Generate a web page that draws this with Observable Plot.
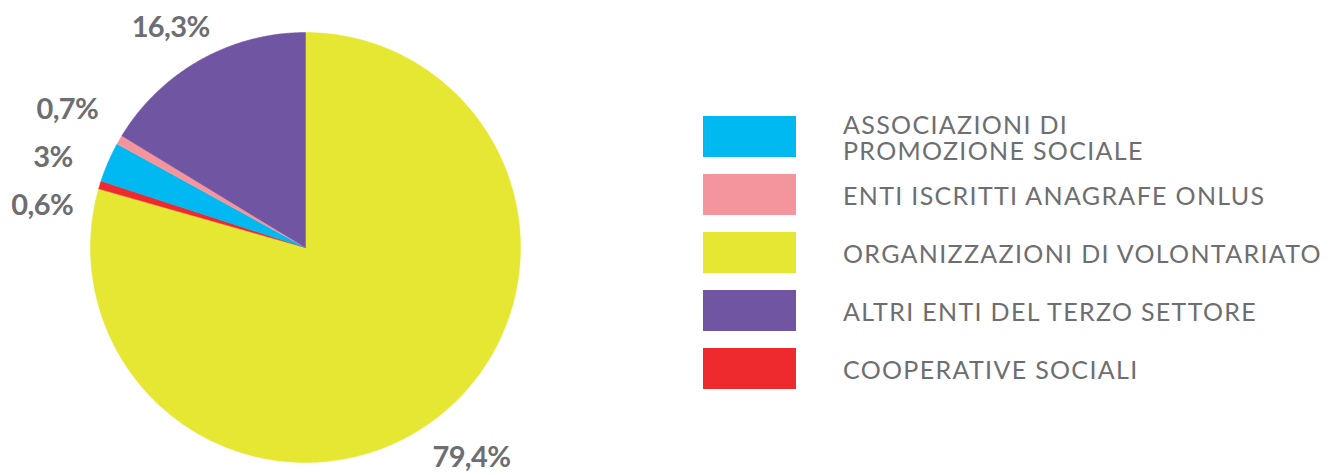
<!DOCTYPE html>
<html><head><meta charset="utf-8">
<script src="https://cdn.jsdelivr.net/npm/d3@7"></script>
<script src="https://cdn.jsdelivr.net/npm/@observablehq/plot@0.6"></script>
<style>
body{margin:0;background:#fff;font-family:Lato,sans-serif;}
#wrap{position:relative;width:1325px;height:474px;overflow:hidden;}
#chart{position:absolute;left:0;top:0;}
#legend{position:absolute;left:703px;top:116px;}
.row{display:flex;align-items:center;height:41px;margin-bottom:17px;}
.sw{width:93px;height:41px;flex:none;}
.lab{margin-left:47px;font-family:Lato,sans-serif;font-size:25px;font-weight:400;color:#6d6e71;line-height:26px;white-space:pre;}
</style></head>
<body><div id="wrap"><div id="chart"></div><div id="legend"></div></div>
<script>
// Legend order
const categories = ["APS", "ONLUS", "ODV", "ALTRI", "COOP"];
const legendLabels = ["ASSOCIAZIONI DI\nPROMOZIONE SOCIALE", "ENTI ISCRITTI ANAGRAFE ONLUS", "ORGANIZZAZIONI DI VOLONTARIATO", "ALTRI ENTI DEL TERZO SETTORE", "COOPERATIVE SOCIALI"];
const values = [3, 0.7, 79.4, 16.3, 0.6];
const valueLabels = ["3%", "0,7%", "79,4%", "16,3%", "0,6%"];
const colors = ["#00b9f0", "#f4959e", "#e6e733", "#6f55a2", "#ee2a2f"];
// Pie order, clockwise from 12 o'clock
const pieOrder = ["ODV", "COOP", "APS", "ONLUS", "ALTRI"];

const R = 215; // pie radius in px (used for label spacing conversion)
const total = d3.sum(values);
let start = 0;
const slices = pieOrder.map(cat => {
  const i = categories.indexOf(cat);
  const a0 = start, a1 = start + values[i] / total * 2 * Math.PI;
  start = a1;
  return {cat, a0, a1, label: valueLabels[i]};
});

// slice outlines
const pts = [];
for (const s of slices) {
  pts.push({cat: s.cat, x: 0, y: 0});
  const n = Math.max(2, Math.ceil((s.a1 - s.a0) / (Math.PI / 360)));
  for (let k = 0; k <= n; k++) {
    const a = s.a0 + (s.a1 - s.a0) * k / n;
    pts.push({cat: s.cat, x: Math.sin(a), y: Math.cos(a)});
  }
  pts.push({cat: s.cat, x: 0, y: 0});
}

// label layout: along mid-angle, clamp inside the frame, push crowded ones apart
const lr = 1.28;
const labels = slices.map(s => {
  const m = (s.a0 + s.a1) / 2;
  return {label: s.label, x: Math.sin(m) * lr, y: Math.cos(m) * lr, m};
});
const yMax = (247 - 27) / R, yMin = -(457 - 247) / R;
for (const l of labels) l.y = Math.max(yMin, Math.min(yMax, l.y));
const left = labels.filter(l => l.x < 0 && l.m > Math.PI * 1.4 && l.m < Math.PI * 1.7).sort((a, b) => b.y - a.y);
const gap = 48 / R;
for (let k = 1; k < left.length; k++) {
  if (left[k - 1].y - left[k].y < gap) left[k].y = left[k - 1].y - gap;
}

const chart = Plot.plot({
  width: 620, height: 474, margin: 0,
  x: {domain: [-1, 1], range: [90, 520], axis: null},
  y: {domain: [-1, 1], range: [462, 32], axis: null},
  color: {domain: categories, range: colors},
  style: {letterSpacing: "-0.6px", background: "transparent"},
  marks: [
    Plot.line(pts, {x: "x", y: "y", z: "cat", fill: "cat", stroke: "cat", strokeWidth: 0.5, curve: "linear"}),
    Plot.text(labels, {x: "x", y: "y", text: "label", fontFamily: "Lato", fontWeight: 700, fontSize: 29, fill: "#6d6e71", textAnchor: "middle"})
  ]
});
document.getElementById("chart").appendChild(chart);

const legend = document.getElementById("legend");
const labEls = [];
categories.forEach((c, i) => {
  const row = document.createElement("div");
  row.className = "row";
  row.innerHTML = `<div class="sw" style="background:${colors[i]}"></div><div class="lab"></div>`;
  const lab = row.querySelector(".lab");
  lab.textContent = legendLabels[i];
  labEls.push(lab);
  legend.appendChild(row);
});
// fit the widest legend label to the reference width
const widest = labEls[2];
const w = widest.getBoundingClientRect().width;
const target = 479, chars = legendLabels[2].length;
const ls = (target - w) / chars;
for (const el of labEls) el.style.letterSpacing = ls.toFixed(2) + "px";
</script>
</body></html>
